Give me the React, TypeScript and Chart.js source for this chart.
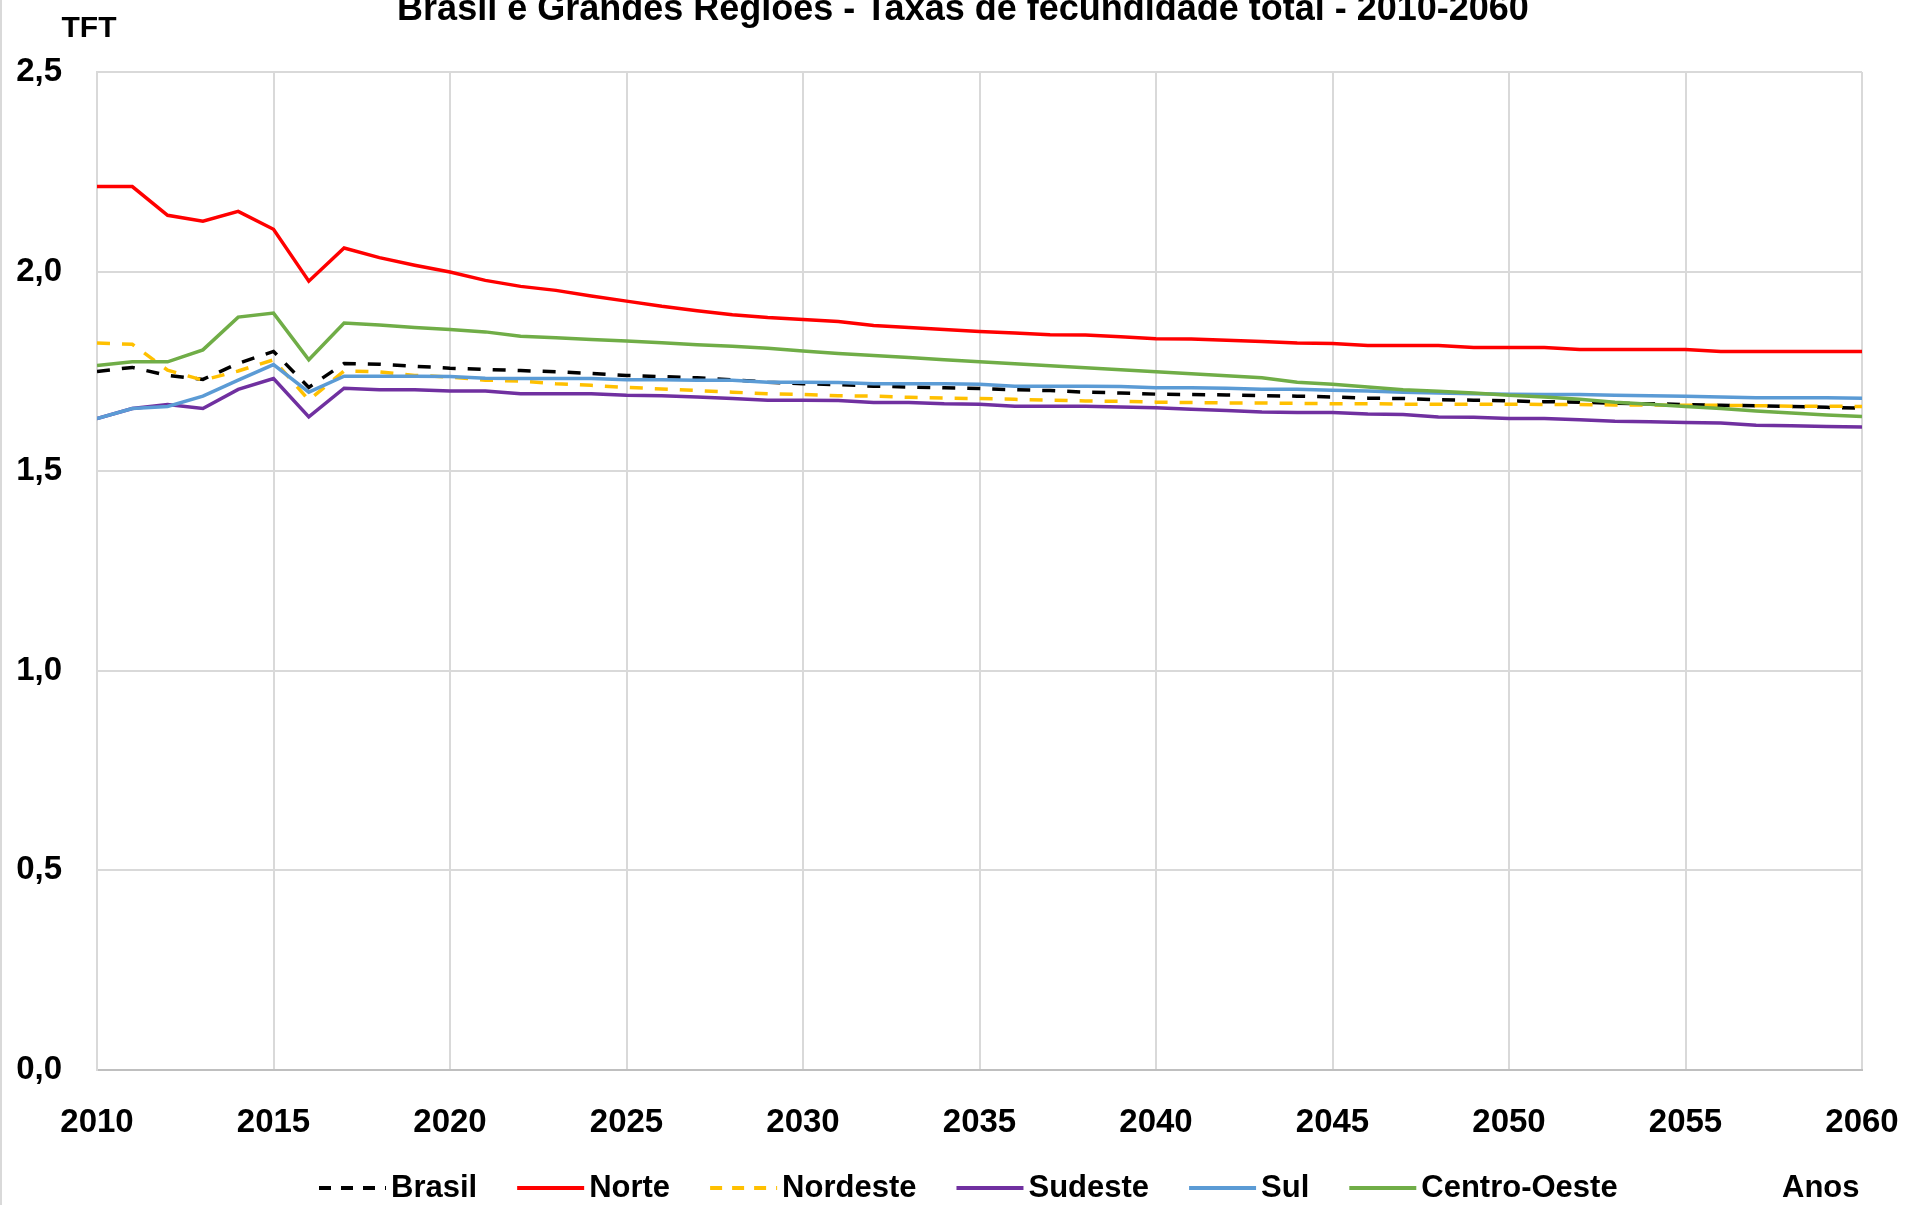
import React, { useEffect, useRef } from "react";
import { Chart, registerables } from "chart.js";

Chart.register(...registerables);

const YEARS = [
  2010, 2011, 2012, 2013, 2014, 2015, 2016, 2017, 2018, 2019,
  2020, 2021, 2022, 2023, 2024, 2025, 2026, 2027, 2028, 2029,
  2030, 2031, 2032, 2033, 2034, 2035, 2036, 2037, 2038, 2039,
  2040, 2041, 2042, 2043, 2044, 2045, 2046, 2047, 2048, 2049,
  2050, 2051, 2052, 2053, 2054, 2055, 2056, 2057, 2058, 2059, 2060,
];

const BRASIL = [
  1.75, 1.76, 1.74, 1.73, 1.77, 1.80, 1.71, 1.77, 1.768, 1.763,
  1.758, 1.755, 1.752, 1.749, 1.745, 1.740, 1.737, 1.734, 1.729, 1.723,
  1.719, 1.717, 1.713, 1.711, 1.709, 1.707, 1.704, 1.702, 1.698, 1.696,
  1.693, 1.692, 1.691, 1.689, 1.688, 1.686, 1.683, 1.682, 1.679, 1.678,
  1.676, 1.674, 1.673, 1.670, 1.669, 1.667, 1.665, 1.664, 1.662, 1.660, 1.658,
];

const NORTE = [
  2.213, 2.213, 2.141, 2.126, 2.151, 2.106, 1.976, 2.059, 2.035, 2.016,
  1.999, 1.978, 1.963, 1.953, 1.939, 1.926, 1.913, 1.902, 1.892, 1.885,
  1.880, 1.875, 1.865, 1.860, 1.855, 1.850, 1.846, 1.842, 1.841, 1.837,
  1.832, 1.831, 1.828, 1.825, 1.821, 1.820, 1.815, 1.815, 1.815, 1.810,
  1.810, 1.810, 1.805, 1.805, 1.805, 1.805, 1.800, 1.800, 1.800, 1.800, 1.800,
];

const NORDESTE = [
  1.821, 1.818, 1.753, 1.728, 1.751, 1.779, 1.678, 1.751, 1.749, 1.740,
  1.736, 1.728, 1.726, 1.719, 1.715, 1.710, 1.706, 1.702, 1.698, 1.694,
  1.692, 1.689, 1.688, 1.685, 1.683, 1.682, 1.680, 1.678, 1.676, 1.675,
  1.673, 1.672, 1.671, 1.671, 1.670, 1.669, 1.669, 1.668, 1.668, 1.668,
  1.668, 1.667, 1.667, 1.666, 1.666, 1.665, 1.665, 1.664, 1.663, 1.663, 1.662,
];

const SUDESTE = [
  1.632, 1.657, 1.667, 1.657, 1.705, 1.732, 1.636, 1.708, 1.704, 1.704,
  1.701, 1.701, 1.694, 1.694, 1.694, 1.690, 1.689, 1.686, 1.682, 1.678,
  1.678, 1.677, 1.672, 1.672, 1.669, 1.668, 1.663, 1.663, 1.663, 1.661,
  1.659, 1.655, 1.652, 1.648, 1.647, 1.647, 1.643, 1.642, 1.636, 1.635,
  1.632, 1.632, 1.629, 1.625, 1.624, 1.622, 1.621, 1.615, 1.614, 1.612, 1.611,
];

const SUL = [
  1.632, 1.657, 1.662, 1.688, 1.728, 1.767, 1.698, 1.738, 1.738, 1.738,
  1.737, 1.733, 1.732, 1.732, 1.732, 1.729, 1.729, 1.728, 1.728, 1.723,
  1.723, 1.722, 1.719, 1.719, 1.719, 1.718, 1.713, 1.713, 1.713, 1.712,
  1.709, 1.709, 1.708, 1.705, 1.705, 1.703, 1.701, 1.698, 1.696, 1.694,
  1.693, 1.692, 1.692, 1.690, 1.689, 1.688, 1.686, 1.684, 1.684, 1.684, 1.683,
];

const CENTRO_OESTE = [
  1.765, 1.774, 1.774, 1.804, 1.886, 1.896, 1.779, 1.871, 1.866, 1.860,
  1.855, 1.849, 1.838, 1.834, 1.830, 1.826, 1.822, 1.817, 1.813, 1.808,
  1.801, 1.795, 1.790, 1.785, 1.779, 1.774, 1.769, 1.764, 1.759, 1.754,
  1.749, 1.744, 1.739, 1.734, 1.723, 1.718, 1.711, 1.704, 1.700, 1.696,
  1.690, 1.686, 1.680, 1.673, 1.668, 1.662, 1.657, 1.651, 1.646, 1.641, 1.637,
];

const SERIES_NAMES = ["Brasil", "Norte", "Nordeste", "Sudeste", "Sul", "Centro-Oeste"];
const SERIES_VALUES = [BRASIL, NORTE, NORDESTE, SUDESTE, SUL, CENTRO_OESTE];
const SERIES_COLORS = ["#000000", "#ff0000", "#ffc000", "#7030a0", "#5b9bd5", "#70ad47"];
const SERIES_DASHED = [true, false, true, false, false, false];

const TITLE = "Brasil e Grandes Regiões - Taxas de fecundidade total - 2010-2060";
const Y_TITLE = "TFT";
const X_TITLE = "Anos";

const FONT = '"Liberation Sans", Arial, sans-serif';

const decorPlugin = {
  id: "decor",
  afterDraw(chart: any) {
    const ctx: CanvasRenderingContext2D = chart.ctx;
    ctx.save();
    // left frame line
    ctx.strokeStyle = "#d9d9d9";
    ctx.lineWidth = 2;
    ctx.beginPath();
    ctx.moveTo(1, 0);
    ctx.lineTo(1, chart.height);
    ctx.stroke();

    ctx.fillStyle = "#000";
    // title (clipped at the top like the reference)
    ctx.font = `bold 36px ${FONT}`;
    const w = ctx.measureText(TITLE).width;
    const size = Math.round((36 * 1147) / w);
    ctx.font = `bold ${size}px ${FONT}`;
    ctx.textAlign = "center";
    ctx.textBaseline = "alphabetic";
    ctx.fillText(TITLE, 963, 20);

    // y title
    ctx.font = `bold 30px ${FONT}`;
    ctx.textBaseline = "middle";
    ctx.fillText(Y_TITLE, 89, 29);

    // legend
    const legendY = 1188;
    ctx.font = `bold 31px ${FONT}`;
    ctx.textAlign = "left";
    let x = 319;
    chart.data.datasets.forEach((ds: any) => {
      ctx.strokeStyle = ds.borderColor;
      ctx.lineWidth = 4;
      ctx.setLineDash(ds.borderDash && ds.borderDash.length ? [12, 10] : []);
      ctx.beginPath();
      ctx.moveTo(x, legendY);
      ctx.lineTo(x + 67, legendY);
      ctx.stroke();
      ctx.setLineDash([]);
      x += 72;
      ctx.fillStyle = "#000";
      ctx.fillText(ds.label, x, legendY);
      x += ctx.measureText(ds.label).width + 40;
    });

    // x title
    ctx.textAlign = "left";
    ctx.fillText(X_TITLE, 1782, legendY);
    ctx.restore();
  },
};

export default function App() {
  const canvasRef = useRef<HTMLCanvasElement | null>(null);

  useEffect(() => {
    if (!canvasRef.current) return;
    const datasets = SERIES_NAMES.map((name, i) => ({
      label: name,
      data: YEARS.map((yr, j) => ({ x: yr, y: SERIES_VALUES[i][j] })),
      borderColor: SERIES_COLORS[i],
      backgroundColor: SERIES_COLORS[i],
      borderWidth: 3.5,
      borderDash: SERIES_DASHED[i] ? [13, 12] : [],
      pointRadius: 0,
      tension: 0,
      fill: false,
      order: SERIES_NAMES.length - i,
    }));

    const chart = new Chart(canvasRef.current, {
      type: "line",
      data: { datasets },
      plugins: [decorPlugin],
      options: {
        animation: false,
        responsive: true,
        maintainAspectRatio: false,
        layout: { padding: { top: 72, right: 45, left: 0, bottom: 0 } },
        plugins: {
          legend: { display: false },
          title: { display: false },
          tooltip: { enabled: false },
        },
        scales: {
          x: {
            type: "linear",
            min: 2010,
            max: 2060,
            afterFit: (s: any) => {
              s.height = 135;
              s.paddingRight = 30;
              s.paddingLeft = 0;
            },
            ticks: {
              stepSize: 5,
              padding: 33,
              maxRotation: 0,
              color: "#000",
              font: { family: FONT, size: 33, weight: "bold" },
              callback: (v: any) => String(v),
            },
            grid: { color: "#d9d9d9", lineWidth: 2, drawTicks: false },
            border: { color: "#bfbfbf", width: 2 },
          },
          y: {
            min: 0,
            max: 2.5,
            afterFit: (s: any) => {
              s.width = 97;
            },
            ticks: {
              stepSize: 0.5,
              padding: 35,
              color: "#000",
              font: { family: FONT, size: 33, weight: "bold" },
              callback: (v: any) => Number(v).toFixed(1).replace(".", ","),
            },
            grid: { color: "#d9d9d9", lineWidth: 2, drawTicks: false },
            border: { color: "#d9d9d9", width: 2 },
          },
        },
      },
    });
    return () => chart.destroy();
  }, []);

  return (
    <div
      style={{
        position: "fixed",
        left: 0,
        top: 0,
        width: 1907,
        height: 1205,
        background: "#fff",
      }}
    >
      <canvas ref={canvasRef} />
    </div>
  );
}
